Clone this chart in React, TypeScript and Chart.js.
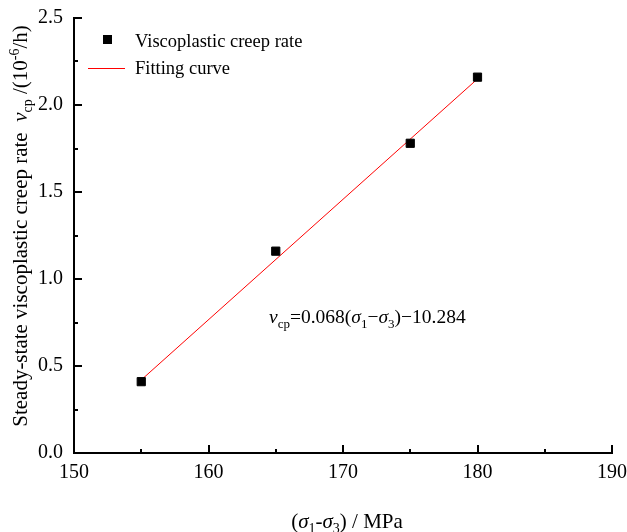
import React, { useEffect, useRef } from 'react';
import { Chart, registerables } from 'chart.js';

Chart.register(...registerables);

// ---- data ----
const stressDiff = [155, 165, 175, 180];
const creepRate = [0.41, 1.16, 1.78, 2.16];
const fitX = [155, 180];
const fitY = [0.42, 2.15];
const xRange = [150, 190];
const yRange = [0, 2.5];
const xStep = 10;
const yStep = 0.5;
const seriesNames = ['Viscoplastic creep rate', 'Fitting curve'];
const annotationAt = [164.5, 0.783];

const FONT = '"Liberation Serif", "Times New Roman", serif';

type Seg = { t: string; i?: boolean; sub?: boolean; sup?: boolean };

const yTitle: Seg[] = [
  { t: 'Steady-state viscoplastic creep rate  ' },
  { t: 'v', i: true },
  { t: 'cp', sub: true },
  { t: ' /(10' },
  { t: '-6', sup: true },
  { t: '/h)' },
];
const xTitle: Seg[] = [
  { t: '(' },
  { t: 'σ', i: true },
  { t: '1', sub: true },
  { t: '-' },
  { t: 'σ', i: true },
  { t: '3', sub: true },
  { t: ') / MPa' },
];
const eqText: Seg[] = [
  { t: 'v', i: true },
  { t: 'cp', sub: true },
  { t: '=0.068(' },
  { t: 'σ', i: true },
  { t: '1', sub: true },
  { t: '−' },
  { t: 'σ', i: true },
  { t: '3', sub: true },
  { t: ')−10.284' },
];

function drawRich(ctx: CanvasRenderingContext2D, segs: Seg[], x: number, y: number, size: number, align: 'left' | 'center') {
  const fontFor = (s: Seg) =>
    `${s.i ? 'italic ' : ''}${s.sub || s.sup ? Math.round(size * 0.66) : size}px ${FONT}`;
  let total = 0;
  const widths = segs.map((s) => {
    ctx.font = fontFor(s);
    const w = ctx.measureText(s.t).width;
    total += w;
    return w;
  });
  let cx = align === 'center' ? x - total / 2 : x;
  ctx.textAlign = 'left';
  ctx.textBaseline = 'alphabetic';
  const base = y + size * 0.33;
  segs.forEach((s, k) => {
    ctx.font = fontFor(s);
    const dy = s.sub ? size * 0.25 : s.sup ? -size * 0.4 : 0;
    ctx.fillText(s.t, cx, base + dy);
    cx += widths[k];
  });
}

const decorPlugin = {
  id: 'decor',
  afterDraw(chart: any) {
    const { ctx, chartArea: a, scales } = chart;
    const xs = scales.x;
    const ys = scales.y;
    ctx.save();
    ctx.strokeStyle = '#000';
    ctx.fillStyle = '#000';
    ctx.lineWidth = 2;
    ctx.lineCap = 'square';
    // axes
    ctx.beginPath();
    ctx.moveTo(a.left, a.top);
    ctx.lineTo(a.left, a.bottom);
    ctx.lineTo(a.right, a.bottom);
    ctx.stroke();
    ctx.lineCap = 'butt';
    // x ticks (inward, with minor)
    for (let v = xRange[0]; v <= xRange[1] + 1e-9; v += xStep / 2) {
      const px = Math.round(xs.getPixelForValue(v));
      const major = Math.abs(((v - xRange[0]) / xStep) % 1) < 1e-6;
      const len = major ? 8 : 4;
      ctx.beginPath();
      ctx.moveTo(px, a.bottom);
      ctx.lineTo(px, a.bottom - len);
      ctx.stroke();
    }
    for (let i = 0; i <= Math.round((yRange[1] - yRange[0]) / (yStep / 2)); i++) {
      const v = yRange[0] + (i * yStep) / 2;
      const py = Math.round(ys.getPixelForValue(v));
      const len = i % 2 === 0 ? 8 : 4;
      ctx.beginPath();
      ctx.moveTo(a.left, py);
      ctx.lineTo(a.left + len, py);
      ctx.stroke();
    }
    // titles
    drawRich(ctx, xTitle, (a.left + a.right) / 2 + 4, 521, 21, 'center');
    ctx.save();
    ctx.translate(20, 226);
    ctx.rotate(-Math.PI / 2);
    drawRich(ctx, yTitle, 0, 0, 21, 'center');
    ctx.restore();
    // equation
    drawRich(ctx, eqText, xs.getPixelForValue(annotationAt[0]), ys.getPixelForValue(annotationAt[1]), 19.5, 'left');
    // legend
    const lx = a.left;
    const ly = a.top;
    ctx.fillRect(lx + 29, ly + 17, 9, 9);
    drawRich(ctx, [{ t: seriesNames[0] }], lx + 61, ly + 22.7, 18.5, 'left');
    ctx.strokeStyle = '#ff0000';
    ctx.lineWidth = 1;
    ctx.beginPath();
    ctx.moveTo(lx + 14, ly + 50.5);
    ctx.lineTo(lx + 51, ly + 50.5);
    ctx.stroke();
    ctx.fillStyle = '#000';
    drawRich(ctx, [{ t: seriesNames[1] }], lx + 61, ly + 49.7, 18.5, 'left');
    ctx.restore();
  },
};

export default function App() {
  const ref = useRef<HTMLCanvasElement>(null);
  useEffect(() => {
    if (!ref.current) return;
    const chart = new Chart(ref.current, {
      type: 'scatter',
      data: {
        datasets: [
          {
            label: seriesNames[0],
            data: stressDiff.map((x, i) => ({ x, y: creepRate[i] })),
            pointStyle: 'rect',
            pointRadius: 5.8,
            pointBackgroundColor: '#000',
            pointBorderColor: '#000',
            pointBorderWidth: 1,
            showLine: false,
          },
          {
            label: seriesNames[1],
            data: fitX.map((x, i) => ({ x, y: fitY[i] })),
            showLine: true,
            borderColor: '#ff0000',
            borderWidth: 1,
            pointRadius: 0,
          } as any,
        ],
      },
      options: {
        animation: false,
        responsive: true,
        maintainAspectRatio: false,
        layout: { padding: { top: 18, right: 15, left: 0, bottom: 0 } },
        plugins: { legend: { display: false }, tooltip: { enabled: false } },
        scales: {
          x: {
            type: 'linear',
            min: xRange[0],
            max: xRange[1],
            grid: { display: false, drawTicks: false },
            border: { display: false },
            ticks: {
              stepSize: xStep,
              padding: 8,
              color: '#000',
              font: { family: FONT, size: 20 },
            },
            afterFit: (s: any) => {
              s.height = 79;
              s.paddingLeft = 0;
              s.paddingRight = 0;
            },
          },
          y: {
            type: 'linear',
            min: yRange[0],
            max: yRange[1],
            grid: { display: false, drawTicks: false },
            border: { display: false },
            ticks: {
              stepSize: yStep,
              padding: 11,
              color: '#000',
              font: { family: FONT, size: 20 },
              callback: (v: any) => Number(v).toFixed(1),
            },
            afterFit: (s: any) => {
              s.width = 74;
              s.paddingTop = 0;
              s.paddingBottom = 0;
            },
          },
        },
      },
      plugins: [decorPlugin],
    });
    return () => chart.destroy();
  }, []);
  return (
    <div style={{ position: 'absolute', left: 0, top: 0, width: 627, height: 532, background: '#fff' }}>
      <canvas ref={ref} />
    </div>
  );
}
